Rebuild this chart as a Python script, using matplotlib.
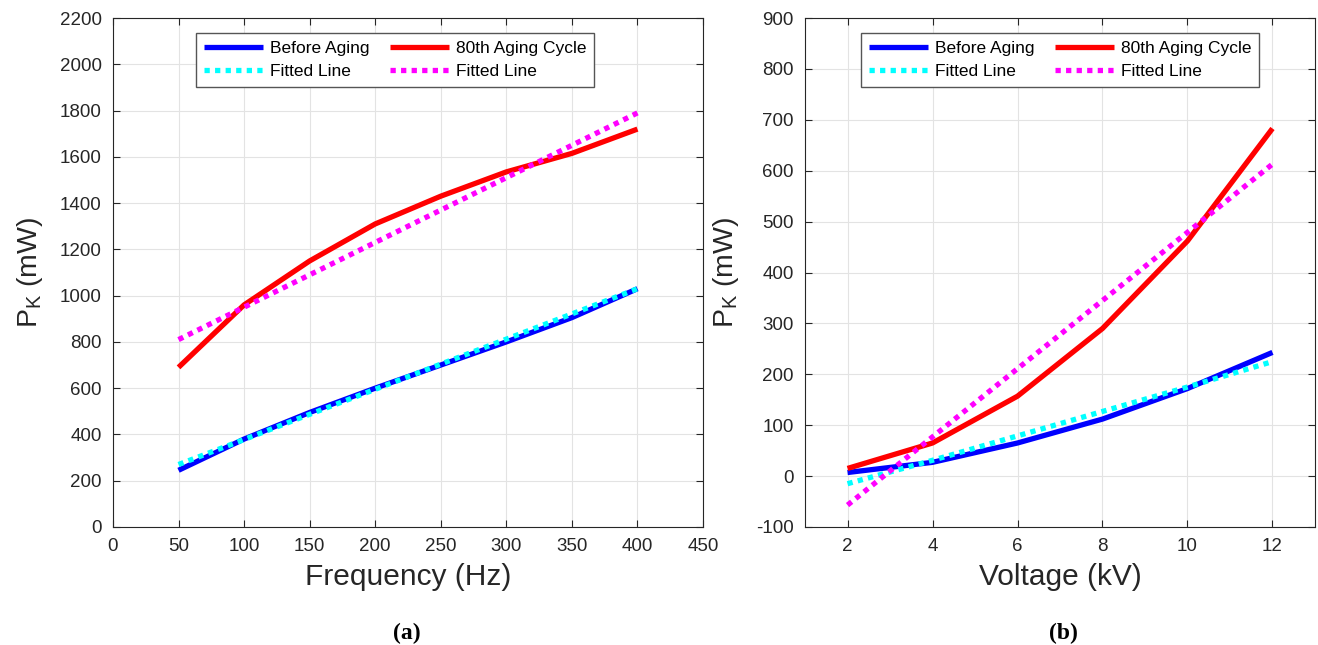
import matplotlib
matplotlib.use("Agg")
import matplotlib.pyplot as plt

plt.rcParams['font.family'] = ['Liberation Sans', 'DejaVu Sans']
plt.rcParams['axes.unicode_minus'] = False

# panel (a): frequency sweep
freq = [50, 100, 150, 200, 250, 300, 350, 400]
before_f = [245, 380, 495, 600, 700, 800, 905, 1030]
before_f_fit = [270, 378, 487, 595, 704, 812, 921, 1030]
aged_f = [690, 960, 1150, 1310, 1430, 1535, 1615, 1720]
aged_f_fit = [810, 950, 1090, 1230, 1370, 1510, 1650, 1790]

# panel (b): voltage sweep
volt = [2, 4, 6, 8, 10, 12]
before_v = [7, 27, 65, 112, 172, 243]
before_v_fit = [-15, 31, 79, 127, 175, 225]
aged_v = [15, 65, 157, 290, 462, 683]
aged_v_fit = [-57, 77, 211, 345, 479, 613]

fig = plt.figure(figsize=(13.18, 6.45), dpi=100)
ax1 = fig.add_axes([0.0857, 0.183, 0.4477, 0.789])
ax2 = fig.add_axes([0.6108, 0.183, 0.3869, 0.789])

lw = 3.8
dot = (1.0, 1.0)


def draw(ax, x, b, bf, a, af, legx):
    ax.plot(x, b, color='blue', lw=lw, label='Before Aging', solid_capstyle='butt')
    ax.plot(x, bf, color='cyan', lw=lw, ls=(0, dot), label='Fitted Line',
            dash_capstyle='butt')
    ax.plot(x, a, color='red', lw=lw, label='80th Aging Cycle', solid_capstyle='butt')
    ax.plot(x, af, color='magenta', lw=lw, ls=(0, dot), label='Fitted Line',
            dash_capstyle='butt')
    ax.grid(True, color='#e3e3e3', lw=0.8)
    ax.set_axisbelow(True)
    ax.tick_params(direction='in', top=True, right=True, labelsize=13.5, length=5,
                   pad=8, color='#262626', labelcolor='#262626')
    for s in ax.spines.values():
        s.set_color('#262626')
        s.set_linewidth(0.8)
    ax.set_ylabel('P$_{\\mathregular{K}}$ (mW)', fontsize=20.5, color='#262626',
                  labelpad=11)
    leg = ax.legend(loc='upper center', ncol=2, fontsize=12.5, handlelength=3.4,
                    columnspacing=1.2, handletextpad=0.4, labelspacing=0.45,
                    borderpad=0.45, borderaxespad=0.3, fancybox=False, framealpha=1,
                    bbox_to_anchor=(legx, 0.98))
    leg.get_frame().set_edgecolor('#555555')
    leg.get_frame().set_linewidth(1.0)


draw(ax1, freq, before_f, before_f_fit, aged_f, aged_f_fit, 0.478)
ax1.set_xlim(0, 450)
ax1.set_ylim(0, 2200)
ax1.set_xticks(range(0, 451, 50))
ax1.set_yticks(range(0, 2201, 200))
ax1.set_xlabel('Frequency (Hz)', fontsize=21.5, color='#262626', labelpad=6)

draw(ax2, volt, before_v, before_v_fit, aged_v, aged_v_fit, 0.5)
ax2.set_xlim(1, 13)
ax2.set_ylim(-100, 900)
ax2.set_xticks(range(2, 13, 2))
ax2.set_yticks(range(-100, 901, 100))
ax2.set_xlabel('Voltage (kV)', fontsize=21.5, color='#262626', labelpad=6)

fig.text(0.309, 0.01, '(a)', fontsize=17, fontweight='bold', ha='center',
         family='Liberation Serif')
fig.text(0.807, 0.01, '(b)', fontsize=17, fontweight='bold', ha='center',
         family='Liberation Serif')

fig.savefig('out.png', dpi=100)
